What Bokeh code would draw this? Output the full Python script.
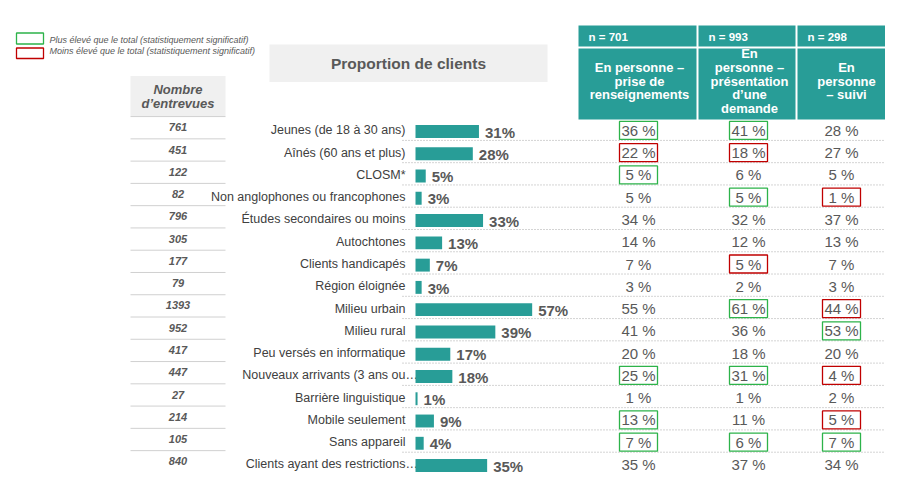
from bokeh.plotting import figure
from bokeh.models import Range1d
from bokeh.embed import file_html
from bokeh.resources import INLINE
from bokeh.core.properties import value

# ---------------- data ----------------
categories = [
    "Jeunes (de 18 à 30 ans)", "Aînés (60 ans et plus)", "CLOSM*",
    "Non anglophones ou francophones", "Études secondaires ou moins",
    "Autochtones", "Clients handicapés", "Région éloignée", "Milieu urbain",
    "Milieu rural", "Peu versés en informatique", "Nouveaux arrivants (3 ans ou…",
    "Barrière linguistique", "Mobile seulement", "Sans appareil",
    "Clients ayant des restrictions…",
]
proportion = [31, 28, 5, 3, 33, 13, 7, 3, 57, 39, 17, 18, 1, 9, 4, 35]
interviews = [761, 451, 122, 82, 796, 305, 177, 79, 1393, 952, 417, 447, 27, 214, 105, 840]

col_n = ["n = 701", "n = 993", "n = 298"]
col_titles = [
    "En personne –\nprise de\nrenseignements",
    "En\npersonne –\nprésentation\nd’une\ndemande",
    "En\npersonne\n– suivi",
]
val_col1 = [36, 22, 5, 5, 34, 14, 7, 3, 55, 41, 20, 25, 1, 13, 7, 35]
val_col2 = [41, 18, 6, 5, 32, 12, 5, 2, 61, 36, 18, 31, 1, 11, 6, 37]
val_col3 = [28, 27, 5, 1, 37, 13, 7, 3, 44, 53, 20, 4, 2, 5, 7, 34]
# G = higher than total, R = lower than total
sig_col1 = ["G", "R", "G", "", "", "", "", "", "", "", "", "G", "", "G", "G", ""]
sig_col2 = ["G", "R", "", "G", "", "", "R", "", "G", "", "", "G", "", "", "G", ""]
sig_col3 = ["", "", "", "R", "", "", "", "", "R", "G", "", "R", "", "R", "G", ""]

legend_labels = [
    "Plus élevé que le total (statistiquement significatif)",
    "Moins élevé que le total (statistiquement significatif)",
]
title_bars = "Proportion de clients"
title_count = ["Nombre", "d’entrevues"]

# ---------------- styles ----------------
FONT = value("Liberation Sans")
TEAL = "#289D97"
GREEN = "#2DB34A"
RED = "#C00000"
DARK = "#404040"
GREY = "#595959"

W, H = 885, 475
OFF = 0
ROW0, ROW_PX = 131.0, 22.27
BAR0, PCT_PX = 415.0, 2.047

p = figure(width=W, height=H, x_range=Range1d(OFF, OFF + W), y_range=Range1d(OFF + H, OFF),
           output_backend="svg", toolbar_location=None, min_border=0,
           x_axis_location=None, y_axis_location=None, outline_line_color=None)
p.grid.visible = False
p.extra_x_ranges = {"pct": Range1d((OFF - BAR0) / PCT_PX, (OFF + W - BAR0) / PCT_PX)}
p.extra_y_ranges = {"rows": Range1d((OFF + H - ROW0) / ROW_PX, (OFF - ROW0) / ROW_PX)}

n = len(categories)
rows = list(range(n))

# ---------------- legend ----------------
p.quad(left=[16, 16], right=[43, 43], top=[32.5, 47.5], bottom=[43.5, 58],
       fill_color=None, line_color=[GREEN, RED], line_width=1.3)
p.text(x=[49, 49], y=[39, 50.5], text=legend_labels, text_font=FONT,
       text_font_size="9px", text_font_style="italic", text_color=GREY,
       text_align="left", text_baseline="middle")

# ---------------- title boxes ----------------
p.quad(left=[269], right=[547], top=[44], bottom=[81.5], fill_color="#F0F0F0", line_color=None)
p.text(x=[408], y=[62.5], text=[title_bars], text_font=FONT, text_font_size="15.5px",
       text_font_style="bold", text_color=GREY, text_align="center", text_baseline="middle")
p.quad(left=[130], right=[225], top=[75.5], bottom=[115.5], fill_color="#F0F0F0", line_color=None)
p.text(x=[177.5, 177.5], y=[88.5, 103], text=title_count, text_font=FONT, text_font_size="13px",
       text_font_style="bold italic", text_color=GREY, text_align="center", text_baseline="middle")

# ---------------- header table ----------------
col_left = [578, 698, 797]
col_right = [696, 795, 885]
col_center = [639, 749, 846]
p.quad(left=col_left, right=col_right, top=[25] * 3, bottom=[46] * 3, fill_color=TEAL, line_color=None)
p.quad(left=col_left, right=col_right, top=[48] * 3, bottom=[119] * 3, fill_color=TEAL, line_color=None)
p.text(x=[l + 10 for l in col_left], y=[36] * 3, text=col_n, text_font=FONT, text_font_size="11.5px",
       text_font_style="bold", text_color="white", text_align="left", text_baseline="middle")
hx, hy, ht = [], [], []
for cx, title in zip(col_center, col_titles):
    lines = title.split("\n")
    k = len(lines)
    for i, ln in enumerate(lines):
        hx.append(cx)
        hy.append(80.5 + (i - (k - 1) / 2) * 13.6)
        ht.append(ln)
p.text(x=hx, y=hy, text=ht, text_font=FONT, text_font_size="13px", text_font_style="bold",
       text_color="white", text_align="center", text_baseline="middle")

# ---------------- left count column ----------------
p.segment(x0=[130] * n, x1=[225] * n, y0=[r - 0.67 for r in rows], y1=[r - 0.67 for r in rows],
          line_color="#D0D0D0", line_width=1, y_range_name="rows")
p.text(x=[177.5] * n, y=[r - 0.19 for r in rows], text=[str(v) for v in interviews],
       text_font=FONT, text_font_size="11px", text_font_style="bold italic", text_color=GREY,
       text_align="center", text_baseline="middle", y_range_name="rows")

# ---------------- dotted separators ----------------
p.segment(x0=[402] * (n - 1), x1=[885] * (n - 1), y0=[r + 0.4 for r in rows[:-1]],
          y1=[r + 0.4 for r in rows[:-1]], line_color="#A8A8A8", line_width=1,
          line_dash="1 2", y_range_name="rows")

# ---------------- category labels ----------------
lab_main = [c.rstrip("…") for c in categories]
p.text(x=[405] * n, y=[r - 0.05 for r in rows], text=lab_main, text_font=FONT, text_font_size="12.5px",
       text_color=DARK, text_align="right", text_baseline="middle", y_range_name="rows")
ell_rows = [r for r, c in zip(rows, categories) if c.endswith("…")]
p.text(x=[405] * len(ell_rows), y=[r - 0.05 for r in ell_rows], text=["…"] * len(ell_rows),
       text_font=FONT, text_font_size="12.5px", text_color=DARK, text_align="left",
       text_baseline="middle", y_range_name="rows")

# ---------------- bars ----------------
p.hbar(y=rows, left=0, right=proportion, height=0.58, fill_color=TEAL, line_color=None,
       x_range_name="pct", y_range_name="rows")
p.text(x=proportion, y=[r + 0.03 for r in rows], text=[f"{v}%" for v in proportion], x_offset=6,
       text_font=FONT, text_font_size="15px", text_font_style="bold", text_color=GREY,
       text_align="left", text_baseline="middle", x_range_name="pct", y_range_name="rows")

# ---------------- table values ----------------
val_x = [638, 748, 841]
for cx, vals, sig in zip(val_x, [val_col1, val_col2, val_col3], [sig_col1, sig_col2, sig_col3]):
    p.text(x=[cx] * n, y=[r - 0.05 for r in rows], text=[f"{v} %" for v in vals], text_font=FONT,
           text_font_size="15px", text_color=GREY, text_align="center", text_baseline="middle",
           y_range_name="rows")
    br = [r for r, s in zip(rows, sig) if s]
    bc = [GREEN if s == "G" else RED for s in sig if s]
    p.rect(x=[cx] * len(br), y=[r - 0.05 for r in br], width=38, height=18,
           width_units="screen", height_units="screen", fill_color=None,
           line_color=bc, line_width=1.3, y_range_name="rows")

open("out.html", "w").write(file_html(p, INLINE))
